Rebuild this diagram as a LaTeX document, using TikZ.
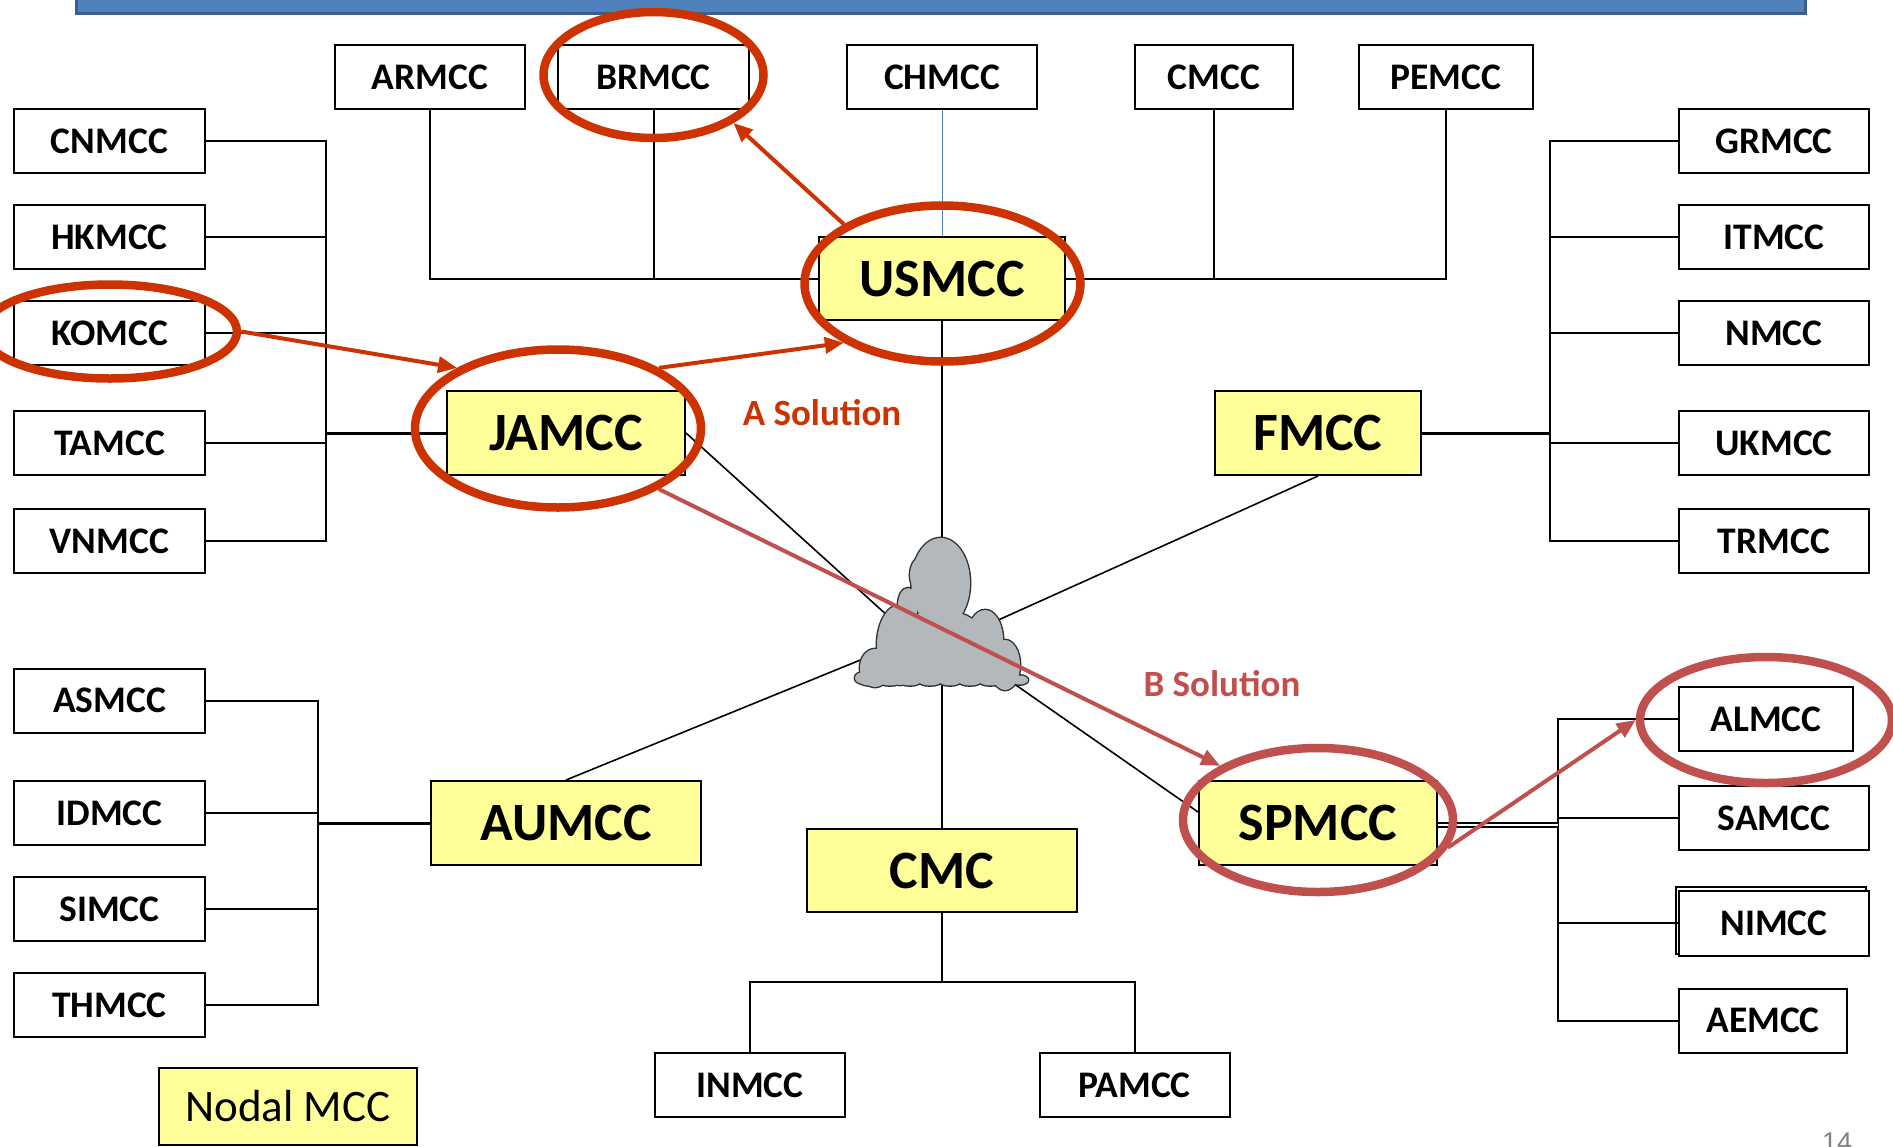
\documentclass[tikz,border=0pt]{standalone}
\usepackage{fontspec}
\setmainfont{Carlito}
\newfontfamily\pnfont{Liberation Sans}
\usetikzlibrary{arrows.meta,shapes.geometric}
\definecolor{nodalyellow}{HTML}{FFFF99}
\definecolor{solA}{HTML}{CC3300}
\definecolor{solB}{HTML}{C0504D}
\definecolor{barblue}{HTML}{4F81BD}
\definecolor{barborder}{HTML}{3A5F8E}
\definecolor{cloudgray}{HTML}{B2B8BC}
\definecolor{cloudline}{HTML}{303030}
\newcommand\cloudparts[1]{%
  \path[#1] (940.7,583) ellipse [x radius=29.3,y radius=45];
  \path[#1] (925,575) ellipse [x radius=15,y radius=20];
  \path[#1] (908,605) ellipse [x radius=10,y radius=17];
  \path[#1] (900,645) ellipse [x radius=23,y radius=40];
  \path[#1] (875,668) ellipse [x radius=15,y radius=19];
  \path[#1] (862,678) ellipse [x radius=7,y radius=5.5];
  \path[#1] (985,640) ellipse [x radius=18,y radius=30];
  \path[#1] (1005,665) ellipse [x radius=15,y radius=25];
  \path[#1] (1020,680) ellipse [x radius=8,y radius=4.5];
  \path[#1] (940,640) ellipse [x radius=45,y radius=30];
  \path[#1] (885,630) rectangle (1000,681);
  \path[#1] (870,681) ellipse [x radius=11,y radius=4.5];
  \path[#1] (890,681.5) ellipse [x radius=11,y radius=4];
  \path[#1] (910,681) ellipse [x radius=11,y radius=4.5];
  \path[#1] (930,681.5) ellipse [x radius=11,y radius=4];
  \path[#1] (950,681) ellipse [x radius=11,y radius=4.5];
  \path[#1] (970,681.5) ellipse [x radius=11,y radius=4];
  \path[#1] (990,681) ellipse [x radius=11,y radius=4.5];
  \path[#1] (1008,680) ellipse [x radius=10,y radius=4.5];}
\begin{document}
\begin{tikzpicture}[x=1pt,y=-1pt,
  mcc/.style={draw=black,line width=2pt,fill=white,inner sep=0pt,minimum height=64pt,
    font=\fontsize{37.5}{41}\selectfont\bfseries},
  nodal/.style={draw=black,line width=2pt,fill=nodalyellow,inner sep=0pt,minimum height=84pt,
    font=\fontsize{54}{58}\selectfont\bfseries},
  wire/.style={line width=2pt,black},
  link/.style={line width=3pt,black},
  spoke/.style={line width=1.6pt,black},
  dlink/.style={draw=black,line width=2pt,double=white,double distance=2.6pt},
  ring/.style={ellipse,draw=#1,line width=8.5pt,inner sep=0pt},
  arr/.style={draw=#1,line width=4pt,-{Triangle[length=19pt,width=16pt]}},
  lbl/.style={font=\fontsize{37}{40}\selectfont\bfseries,text=#1,inner sep=0pt},
]
\path[use as bounding box] (0,0) rectangle (1893,1146);
\clip (0,0) rectangle (1893,1146);

% title bar
\fill[barblue,draw=barborder,line width=3pt] (76,-20) rectangle (1805,13);

% top row
\node[mcc,minimum width=190pt] (ARMCC) at (430,77) {ARMCC};
\node[mcc,minimum width=191pt] (BRMCC) at (653.5,77) {BRMCC};
\node[mcc,minimum width=190pt] (CHMCC) at (942,77) {CHMCC};
\node[mcc,minimum width=158pt] (CMCC) at (1214,77) {CMCC};
\node[mcc,minimum width=174pt] (PEMCC) at (1446,77) {PEMCC};
% left column
\node[mcc,minimum width=191pt] (CNMCC) at (109.5,141) {CNMCC};
\node[mcc,minimum width=191pt] (HKMCC) at (109.5,237) {HKMCC};
\node[mcc,minimum width=191pt] (KOMCC) at (109.5,333) {KOMCC};
\node[mcc,minimum width=191pt] (TAMCC) at (109.5,443) {TAMCC};
\node[mcc,minimum width=191pt] (VNMCC) at (109.5,541) {VNMCC};
% right column
\node[mcc,minimum width=190pt] (GRMCC) at (1774,141) {GRMCC};
\node[mcc,minimum width=190pt] (ITMCC) at (1774,237) {ITMCC};
\node[mcc,minimum width=190pt] (NMCC) at (1774,333) {NMCC};
\node[mcc,minimum width=190pt] (UKMCC) at (1774,443) {UKMCC};
\node[mcc,minimum width=190pt] (TRMCC) at (1774,541) {TRMCC};
% lower left column
\node[mcc,minimum width=191pt] (ASMCC) at (109.5,700.7) {ASMCC};
\node[mcc,minimum width=191pt] (IDMCC) at (109.5,813) {IDMCC};
\node[mcc,minimum width=191pt] (SIMCC) at (109.5,909) {SIMCC};
\node[mcc,minimum width=191pt] (THMCC) at (109.5,1005) {THMCC};
% lower right column
\node[mcc,minimum width=174pt] (ALMCC) at (1766,719) {ALMCC};
\node[mcc,minimum width=190pt] (SAMCC) at (1774,818) {SAMCC};
\draw[wire] (1676,887) rectangle (1866,954);
\node[mcc,minimum width=190pt,minimum height=65pt] (NIMCC) at (1774,923.4) {NIMCC};
\node[mcc,minimum width=168pt] (AEMCC) at (1763,1020.6) {AEMCC};
% bottom
\node[mcc,minimum width=190pt] (INMCC) at (750,1085) {INMCC};
\node[mcc,minimum width=190pt] (PAMCC) at (1134.5,1085) {PAMCC};

% nodal MCCs
\node[nodal,minimum width=238pt] (JAMCC) at (566,433) {JAMCC};
\node[nodal,minimum width=246pt,minimum height=83pt] (USMCC) at (942,278.5) {USMCC};
\node[nodal,minimum width=206pt] (FMCC) at (1318,433) {FMCC};
\node[nodal,minimum width=270pt] (AUMCC) at (566,823) {AUMCC};
\node[nodal,minimum width=238pt] (SPMCC) at (1318,823) {SPMCC};
\node[nodal,minimum width=270pt,minimum height=83pt] (CMC) at (942,870.5) {CMC};
\node[draw=black,line width=2pt,fill=nodalyellow,inner sep=0pt,minimum width=258pt,minimum height=77pt,
  font=\fontsize{45}{50}\selectfont] (legend) at (288,1106) {Nodal MCC};

% USMCC tree
\draw[wire] (ARMCC.south) |- (USMCC.west);
\draw[wire] (BRMCC.south) |- (USMCC.west);
\draw[wire] (CMCC.south) |- (USMCC.east);
\draw[wire] (PEMCC.south) |- (USMCC.east);
\draw[line width=1pt,barblue] (CHMCC.south) -- (USMCC.north);

% JAMCC tree
\coordinate (LB) at (326,433);
\draw[wire] (CNMCC.east) -| (LB) |- (VNMCC.east);
\draw[wire] (HKMCC.east) -- (HKMCC.east -| LB);
\draw[wire] (KOMCC.east) -- (KOMCC.east -| LB);
\draw[wire] (TAMCC.east) -- (TAMCC.east -| LB);
\draw[link] (JAMCC.west) -- (LB);

% FMCC tree
\coordinate (RB) at (1550,433);
\draw[wire] (GRMCC.west) -| (RB) |- (TRMCC.west);
\draw[wire] (ITMCC.west) -- (ITMCC.west -| RB);
\draw[wire] (NMCC.west) -- (NMCC.west -| RB);
\draw[wire] (UKMCC.west) -- (UKMCC.west -| RB);
\draw[link] (FMCC.east) -- (RB);

% AUMCC tree
\coordinate (LB2) at (318,823);
\draw[wire] (ASMCC.east) -| (LB2) |- (THMCC.east);
\draw[wire] (IDMCC.east) -- (IDMCC.east -| LB2);
\draw[wire] (SIMCC.east) -- (SIMCC.east -| LB2);
\draw[link] (AUMCC.west) -- (LB2);

% SPMCC tree
\coordinate (RB2) at (1557.6,825);
\draw[wire] (ALMCC.west) -| (RB2) |- (AEMCC.west);
\draw[wire] (SAMCC.west) -- (SAMCC.west -| RB2);
\draw[wire] (NIMCC.west) -- (NIMCC.west -| RB2);
\draw[dlink] ([yshift=-2pt]SPMCC.east) -- (RB2);

% CMC tree
\coordinate (CB) at (942,982);
\draw[wire] (CMC.south) -- (CB);
\draw[wire] (INMCC.north) |- (CB) -| (PAMCC.north);

% links to the cloud
\draw[wire] (USMCC.south) -- (CMC.north);
\coordinate (cJA) at (900,627);
\coordinate (cF) at (985,626);
\coordinate (cAU) at (880,652);
\coordinate (cSP) at (1000,674);
\draw[spoke] (JAMCC.east) -- (cJA);
\draw[spoke] (FMCC.south) -- (cF);
\draw[spoke] (AUMCC.north) -- (cAU);
\draw[spoke] ([yshift=11pt]SPMCC.west) -- (cSP);

% cloud: outline pass, then fill pass
\cloudparts{draw=cloudline,line width=2.8pt}
\cloudparts{fill=cloudgray}

% solution rings
\node[ring=solA,minimum width=220pt,minimum height=126pt] (eBR) at (653.5,75) {};
\node[ring=solA,minimum width=276pt,minimum height=156pt] (eUS) at (942.5,283.5) {};
\node[ring=solA,minimum width=254pt,minimum height=94pt] (eKO) at (110,331.5) {};
\node[ring=solA,minimum width=286pt,minimum height=158pt] (eJA) at (558,428.5) {};
\node[ring=solB,minimum width=270pt,minimum height=144pt] (eSP) at (1318,820) {};
\node[ring=solB,minimum width=252pt,minimum height=126pt] (eAL) at (1766,720) {};

% solution arrows
\draw[arr=solA] (eUS.149.9) -- (eBR.329.5);
\draw[arr=solA] (eKO.0) -- (eJA.149.8);
\draw[arr=solA] (eJA.31.3) -- (eUS.211.6);
\draw[arr=solB] (eJA.329.9) -- (eSP.151);
\draw[arr=solB] (eSP.348.3) -- (eAL.180);

% labels
\node[lbl=solA] (lblA) at (822,413) {A Solution};
\node[lbl=solB] (lblB) at (1222,684) {B Solution};
\node[font=\pnfont\fontsize{27}{30}\selectfont,text=gray,anchor=north,inner sep=0pt] (pg) at (1837,1133) {14};
\end{tikzpicture}
\end{document}
